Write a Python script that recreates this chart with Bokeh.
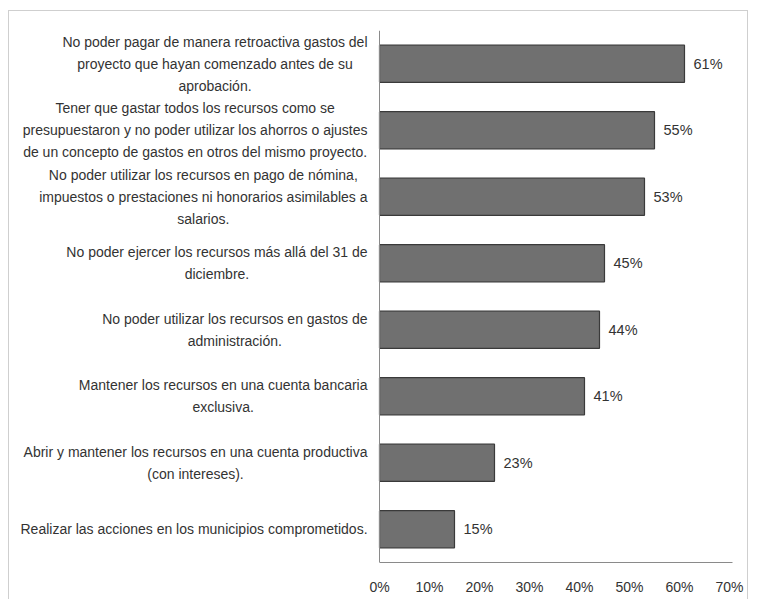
from bokeh.plotting import figure
from bokeh.models import (FactorRange, Range1d, ColumnDataSource, LabelSet, FixedTicker,
                          PrintfTickFormatter, Span)
from bokeh.core.properties import value
from bokeh.embed import file_html
from bokeh.resources import INLINE

categories = [
    "No poder pagar de manera retroactiva gastos del\nproyecto que hayan comenzado antes de su\naprobación.",
    "Tener que gastar todos los recursos como se\npresupuestaron y no poder utilizar los ahorros o ajustes\nde un concepto de gastos en otros del mismo proyecto.",
    "No poder utilizar los recursos en pago de nómina,\nimpuestos o prestaciones ni honorarios asimilables a\nsalarios.",
    "No poder ejercer los recursos más allá del 31 de\ndiciembre.",
    "No poder utilizar los recursos en gastos de\nadministración.",
    "Mantener los recursos en una cuenta bancaria\nexclusiva.",
    "Abrir y mantener los recursos en una cuenta productiva\n(con intereses).",
    "Realizar las acciones en los municipios comprometidos.",
]
values = [61, 55, 53, 45, 44, 41, 23, 15]
x_ticks = [0, 10, 20, 30, 40, 50, 60, 70]

FONT = "'Liberation Sans', Arial, sans-serif"
CAT_FS = 14
STANDOFF = 12
LINE_STEP = 22

# Arial / Liberation Sans advance widths (1/1000 em) used to centre each label block
_W = {" ": 278, "a": 556, "b": 556, "c": 500, "d": 556, "e": 556, "f": 278, "g": 556,
      "h": 556, "i": 222, "j": 222, "k": 500, "l": 222, "m": 833, "n": 556, "o": 556,
      "p": 556, "q": 556, "r": 333, "s": 500, "t": 278, "u": 556, "v": 500, "x": 500,
      "y": 500, "z": 500, "á": 556, "ó": 556, "N": 722, "T": 611, "M": 833, "A": 667,
      "R": 722, ".": 278, ",": 278, "(": 333, ")": 333, "1": 556, "3": 556}


def line_width(line):
    return sum(_W.get(ch, 556) for ch in line) * CAT_FS / 1000


source = ColumnDataSource(dict(
    cat=categories,
    val=values,
    lab=[f"{v}%" for v in values],
))

# one row per text line of each category label, centred within its block
ln_cat, ln_txt, ln_dx, ln_dy = [], [], [], []
for c in categories:
    lines = c.split("\n")
    w = max(line_width(l) for l in lines)
    n = len(lines)
    for i, l in enumerate(lines):
        ln_cat.append(c)
        ln_txt.append(l)
        ln_dx.append(-(STANDOFF + w / 2))
        ln_dy.append(((n - 1) / 2 - i) * LINE_STEP)
line_source = ColumnDataSource(dict(cat=ln_cat, txt=ln_txt, zero=[0] * len(ln_cat), dx=ln_dx, dy=ln_dy))

p = figure(
    width=740, height=589,
    y_range=FactorRange(factors=list(reversed(categories))),
    x_range=Range1d(-74, 70.6),
    output_backend="svg", toolbar_location=None,
    min_border_left=0, min_border_top=19, min_border_bottom=38, min_border_right=17,
)
p.styles = {
    "margin-left": "8px",
    "margin-top": "10px",
    "border-top": "1px solid #cfcfcf",
    "border-left": "1px solid #cfcfcf",
    "border-right": "1px solid #cfcfcf",
}
p.outline_line_color = None
p.xgrid.grid_line_color = None
p.ygrid.grid_line_color = None
p.background_fill_color = "white"
p.border_fill_color = "white"
p.yaxis.visible = False

p.hbar(y="cat", right="val", left=0, height=0.56, source=source,
       fill_color="#707070", line_color="#3a3a3a", line_width=1.2)

p.add_layout(Span(location=0, dimension="height", line_color="#8a8a8a", line_width=1))

labels = LabelSet(x="val", y="cat", text="lab", source=source,
                  x_offset=9, text_baseline="middle", text_align="left",
                  text_font=value(FONT), text_font_size="14.5px", text_color="#333333")
p.add_layout(labels)

cat_labels = LabelSet(x="zero", y="cat", text="txt", source=line_source,
                      x_offset="dx", y_offset="dy", text_baseline="middle", text_align="center",
                      text_font=value(FONT), text_font_size=f"{CAT_FS}px",
                      text_color="#333333")
p.add_layout(cat_labels)

xa = p.xaxis[0]
xa.ticker = FixedTicker(ticks=x_ticks)
xa.formatter = PrintfTickFormatter(format="%d%%")
xa.bounds = (0, 70.6)
xa.major_tick_line_color = None
xa.minor_tick_line_color = None
xa.axis_line_color = "#8a8a8a"
xa.major_label_text_font = FONT
xa.major_label_text_font_size = "14px"
xa.major_label_text_color = "#333333"
xa.major_label_standoff = 10

open("out.html", "w").write(file_html(p, INLINE))
